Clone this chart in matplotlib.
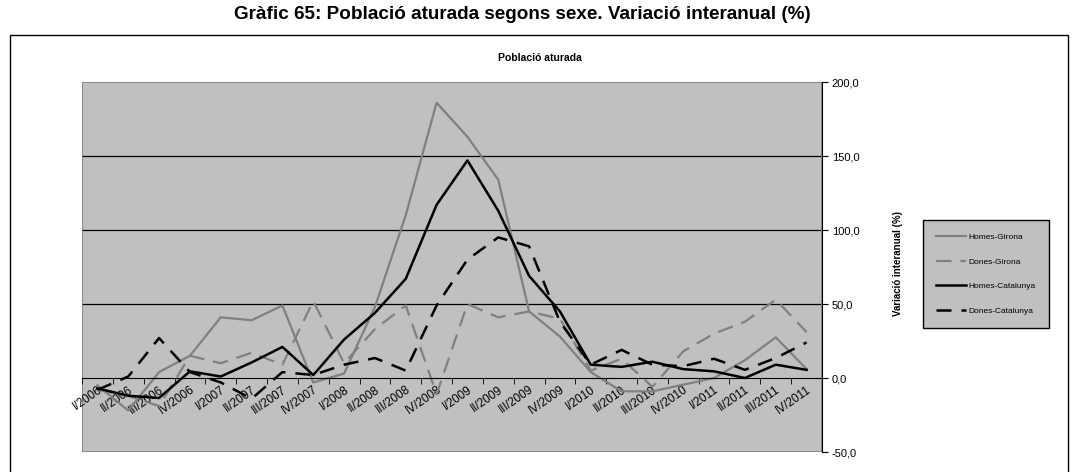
import numpy as np
import matplotlib
matplotlib.use("Agg")
import matplotlib.pyplot as plt
from matplotlib.patches import Rectangle
from matplotlib.ticker import FuncFormatter

plt.rcParams['font.family'] = ['Liberation Sans', 'DejaVu Sans']

# quarters
quarters = []
for yr in range(2006, 2012):
    for q in ['I', 'II', 'III', 'IV']:
        quarters.append(q + '/' + str(yr))

homes_girona = [-5, -22, 4, 15, 41, 39, 49, -3, 3, 48, 110, 186,
                163, 134, 45, 28, 4, -9, -9, -4.5, 0, 12, 27.5, 6]
dones_girona = [-8, -12, -19, 15, 10, 17, 9, 52, 10, 33, 49, -11,
                50, 41, 45, 40, 5, 13, -6, 18, 30, 38, 53, 31]
homes_cat = [-7, -12, -13.5, 4.5, 1, 10.5, 21, 2, 26, 44, 67, 117,
             147, 113, 69, 45, 9, 7.5, 11, 6, 4.5, 0, 9, 5.5]
dones_cat = [-8, 1, 27, 4, -3, -14, 4, 2, 9, 13.5, 5, 49,
             80, 95, 89, 38, 9, 19, 9, 8, 13, 5.5, 13.5, 24]

W, H = 1078, 472
fig = plt.figure(figsize=(W / 100, H / 100), dpi=100)

def fx(px):
    return px / W

def fy(py):
    return 1 - py / H

# outer frame + titles
fig.patches.append(Rectangle((fx(10), -0.02), fx(1068) - fx(10), fy(35) + 0.02,
                             transform=fig.transFigure, fill=False,
                             edgecolor='black', linewidth=1.0))
fig.text(fx(522), fy(19), 'Gràfic 65: Població aturada segons sexe. Variació interanual (%)',
         ha='center', va='baseline', fontsize=13.6, fontweight='bold')
fig.text(fx(540), fy(58), 'Població aturada', ha='center', va='center',
         fontsize=7.5, fontweight='bold')

ax = fig.add_axes([fx(82), fy(452), fx(822) - fx(82), (452 - 82) / H])
ax.set_facecolor('#C0C0C0')

x = np.arange(len(quarters))
ax.plot(x, homes_girona, color='#808080', lw=1.6, label='Homes-Girona')
ax.plot(x, dones_girona, color='#808080', lw=1.6, dashes=(7, 4), label='Dones-Girona')
ax.plot(x, homes_cat, color='black', lw=1.8, label='Homes-Catalunya')
ax.plot(x, dones_cat, color='black', lw=1.8, dashes=(6, 4), label='Dones-Catalunya')

for g in [50, 100, 150]:
    ax.axhline(g, color='black', lw=0.9, zorder=0.5)

ax.set_xlim(-0.5, len(quarters) - 0.5)
ax.set_ylim(-50, 200)

for s in ['top', 'left']:
    ax.spines[s].set_visible(False)
ax.spines['bottom'].set_position(('data', 0))
ax.spines['bottom'].set_color('black')
ax.spines['right'].set_color('black')
ax.add_patch(Rectangle((0, 0), 1, 1, transform=ax.transAxes, fill=False,
                       edgecolor='#808080', lw=1.2, zorder=0.6))

ax.set_xticks(x)
ax.set_xticklabels(quarters, rotation=35, ha='right', va='top',
                   rotation_mode='anchor', fontsize=8.5)
ax.set_xticks(np.arange(-0.5, len(quarters), 1), minor=True)
ax.tick_params(axis='x', which='major', length=0, pad=4)
ax.tick_params(axis='x', which='minor', length=4, direction='out', color='black')

ax.yaxis.tick_right()
ax.set_yticks([-50, 0, 50, 100, 150, 200])
ax.yaxis.set_major_formatter(FuncFormatter(lambda v, p: ('%.1f' % v).replace('.', ',')))
ax.tick_params(axis='y', length=4, direction='out', labelsize=8, pad=3)

fig.text(fx(898), fy(263), 'Variació interanual (%)', rotation=90,
         ha='center', va='center', fontsize=7, fontweight='bold')

leg = ax.legend(loc='center', bbox_to_anchor=(fx(986), fy(274)),
                bbox_transform=fig.transFigure, fontsize=6,
                frameon=True, fancybox=False, labelspacing=2.0,
                handlelength=3.6, borderpad=1.6, handletextpad=0.3)
leg.get_frame().set_facecolor('#C0C0C0')
leg.get_frame().set_edgecolor('black')
leg.get_frame().set_linewidth(1.0)
leg.get_frame().set_alpha(1)

fig.savefig('out.png', dpi=100)
